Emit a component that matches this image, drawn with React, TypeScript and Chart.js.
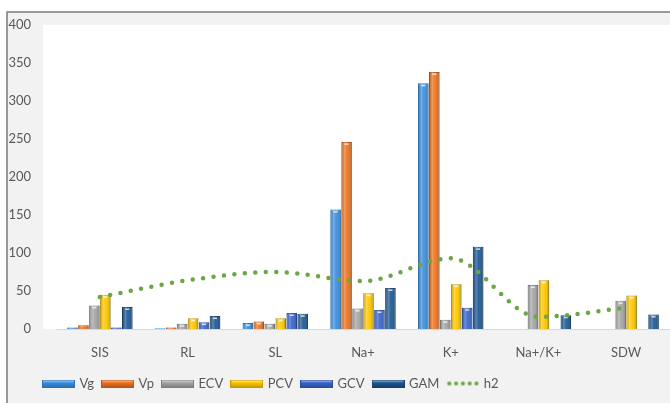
import React, { useEffect, useRef } from "react";
import { Chart, registerables } from "chart.js";

Chart.register(...registerables);

const categories = ["SIS", "RL", "SL", "Na+", "K+", "Na+/K+", "SDW"];
const vgValues = [2, 1, 8, 157, 323, 0, 0];
const vpValues = [5, 2, 10, 246, 338, 0, 0];
const ecvValues = [31, 7, 7, 27, 12, 58, 37];
const pcvValues = [45, 14, 14, 47, 59, 64, 44];
const gcvValues = [2, 9, 21, 25, 28, 0, 0];
const gamValues = [29, 17, 20, 54, 108, 18, 19];
const h2Values = [42, 64, 75, 63, 93, 16, 28];
const yMin = 0;
const yMax = 400;
const yStep = 50;

const seriesNames = ["Vg", "Vp", "ECV", "PCV", "GCV", "GAM"];
const seriesValues = [vgValues, vpValues, ecvValues, pcvValues, gcvValues, gamValues];
const seriesColors = ["#3d8fe0", "#ee7420", "#a6a6a6", "#ffc800", "#3a66cc", "#1f5a96"];
const seriesBorders = ["#2a6fb5", "#b8561a", "#7f7f7f", "#c79a00", "#2a4d9e", "#163f6b"];
const lineColor = "#6aa744";
const textColor = "#595959";
const fontFamily = "Lato, 'Open Sans', sans-serif";

function barSwatch(color: string, border: string): HTMLCanvasElement {
  const c = document.createElement("canvas");
  c.width = 33;
  c.height = 8;
  const ctx = c.getContext("2d")!;
  const g = ctx.createLinearGradient(0, 0, 0, 8);
  g.addColorStop(0, "rgba(255,255,255,0.9)");
  g.addColorStop(0.35, color);
  g.addColorStop(1, border);
  ctx.fillStyle = g;
  ctx.fillRect(0, 0, 33, 8);
  ctx.strokeStyle = border;
  ctx.lineWidth = 1;
  ctx.strokeRect(0.5, 0.5, 32, 7);
  return c;
}

function dotSwatch(color: string): HTMLCanvasElement {
  const c = document.createElement("canvas");
  c.width = 33;
  c.height = 8;
  const ctx = c.getContext("2d")!;
  ctx.fillStyle = color;
  for (let i = 0; i < 5; i++) {
    ctx.beginPath();
    ctx.arc(3 + i * 6.8, 4, 2.1, 0, Math.PI * 2);
    ctx.fill();
  }
  return c;
}

const backgroundPlugin = {
  id: "bgFrame",
  beforeDraw(chart: any) {
    const { ctx, width, height, chartArea } = chart;
    if (chart.legend) {
      chart.legend.left = 35;
      chart.legend.top = 368;
    }
    ctx.save();
    ctx.fillStyle = "#ffffff";
    ctx.fillRect(0, 0, width, height);
    ctx.fillStyle = "#f2f2f2";
    ctx.fillRect(7, 12, width - 7, height - 12);
    ctx.fillStyle = "#ffffff";
    ctx.fillRect(chartArea.left - 13, chartArea.top, width - (chartArea.left - 13), chartArea.bottom - chartArea.top);
    ctx.strokeStyle = "#7a7a7a";
    ctx.lineWidth = 1.5;
    ctx.beginPath();
    ctx.moveTo(7, height);
    ctx.lineTo(7, 12);
    ctx.lineTo(width, 12);
    ctx.stroke();
    ctx.restore();
  },
};

const barShadePlugin = {
  id: "barShade",
  afterDatasetDraw(chart: any, args: any) {
    const meta = args.meta;
    if (meta.type !== "bar") return;
    const ctx = chart.ctx;
    ctx.save();
    meta.data.forEach((el: any) => {
      const p = el.getProps(["x", "y", "base", "width"], true);
      const h = p.base - p.y;
      if (h < 1) return;
      const left = p.x - p.width / 2;
      const g = ctx.createLinearGradient(left, 0, left + p.width, 0);
      g.addColorStop(0, "rgba(0,0,0,0.12)");
      g.addColorStop(0.3, "rgba(255,255,255,0.28)");
      g.addColorStop(0.55, "rgba(255,255,255,0.05)");
      g.addColorStop(1, "rgba(0,0,0,0.28)");
      ctx.fillStyle = g;
      ctx.fillRect(left, p.y, p.width, h);
      if (h > 4) {
        ctx.fillStyle = "rgba(255,255,255,0.75)";
        ctx.fillRect(p.x - 2, p.y + 1.5, 4, 1.5);
      }
    });
    ctx.restore();
  },
};

export default function App() {
  const canvasRef = useRef<HTMLCanvasElement | null>(null);

  useEffect(() => {
    document.body.style.margin = "0";
    const canvas = canvasRef.current;
    if (!canvas) return;

    const datasets: any[] = seriesNames.map((name, i) => ({
      type: "bar",
      label: name,
      data: seriesValues[i],
      backgroundColor: seriesColors[i],
      borderColor: seriesBorders[i],
      borderWidth: 1,
      order: 1,
      pointStyle: barSwatch(seriesColors[i], seriesBorders[i]),
      categoryPercentage: 0.75,
      barPercentage: 0.96,
    }));
    datasets.push({
      type: "line",
      label: "h2",
      data: h2Values,
      borderColor: lineColor,
      backgroundColor: lineColor,
      borderWidth: 4.5,
      borderDash: [0, 10.5],
      borderCapStyle: "round",
      pointRadius: 0,
      pointStyle: dotSwatch(lineColor),
      cubicInterpolationMode: "monotone",
      fill: false,
      order: 0,
    });

    const chart = new Chart(canvas, {
      type: "bar",
      data: { labels: categories, datasets },
      options: {
        responsive: false,
        animation: false,
        devicePixelRatio: 1,
        layout: { padding: { left: 8, top: 16, right: 0, bottom: 4 } },
        plugins: {
          tooltip: { enabled: false },
          legend: {
            position: "bottom",
            align: "start",
            labels: {
              usePointStyle: true,
              pointStyleWidth: 29,
              padding: 9,
              color: textColor,
              font: { family: fontFamily, size: 13 },
              sort: (a: any, b: any) => a.datasetIndex - b.datasetIndex,
            },
          },
        },
        scales: {
          x: {
            grid: { display: false },
            border: { display: true, color: "#d9d9d9", width: 1 },
            ticks: { color: textColor, font: { family: fontFamily, size: 13 }, padding: 8 },
            afterFit: (s: any) => {
              s.height = 38;
            },
          },
          y: {
            min: yMin,
            max: yMax,
            grid: { display: false },
            border: { display: false },
            ticks: {
              stepSize: yStep,
              color: textColor,
              font: { family: fontFamily, size: 13 },
              padding: 17,
            },
            afterFit: (s: any) => {
              s.width = 48;
            },
          },
        },
      },
      plugins: [backgroundPlugin, barShadePlugin],
    } as any);

    return () => chart.destroy();
  }, []);

  return (
    <div style={{ width: 670, height: 403, position: "relative" }}>
      <canvas ref={canvasRef} width={670} height={403} style={{ width: 670, height: 403, display: "block" }} />
    </div>
  );
}
